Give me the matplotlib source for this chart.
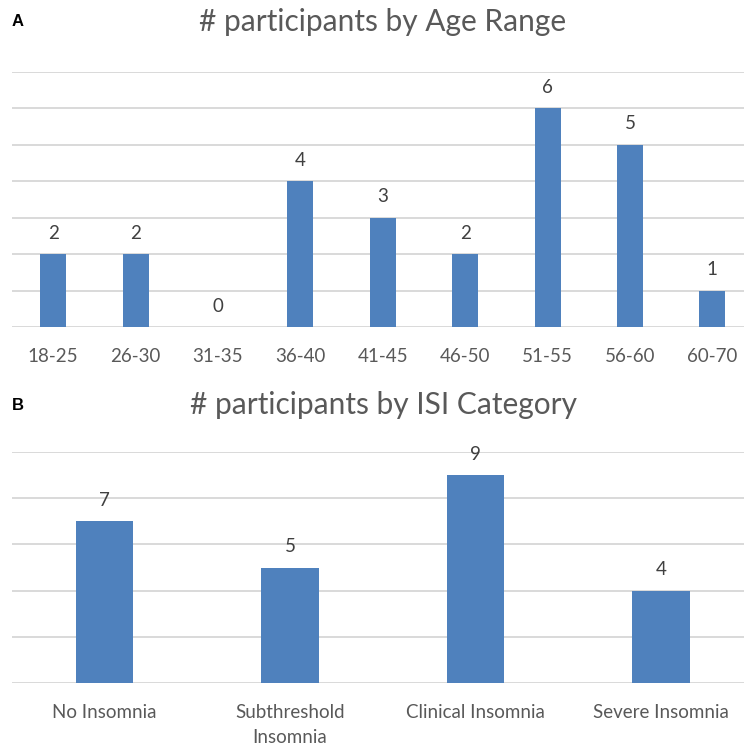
import matplotlib
matplotlib.use("Agg")
import matplotlib.pyplot as plt

age_ranges = ["18-25", "26-30", "31-35", "36-40", "41-45", "46-50", "51-55", "56-60", "60-70"]
age_counts = [2, 2, 0, 4, 3, 2, 6, 5, 1]
isi_categories = ["No Insomnia", "Subthreshold\nInsomnia", "Clinical Insomnia", "Severe Insomnia"]
isi_counts = [7, 5, 9, 4]

FONT = "Lato"
BAR = "#4F81BD"
GRID = "#D9D9D9"
TXT = "#595959"
LBL = "#404040"

fig = plt.figure(figsize=(7.44, 7.47), dpi=100)
W, H = 744, 747

def setup(ax, cats, vals, ymax, step, width):
    x = list(range(len(cats)))
    ax.bar(x, vals, width=width, color=BAR, zorder=3)
    ax.set_xlim(-0.5, len(cats) - 0.5)
    ax.set_ylim(0, ymax)
    ax.set_yticks(list(range(0, ymax + 1, step)))
    ax.yaxis.grid(True, color=GRID, linewidth=1.4, zorder=0)
    ax.set_yticklabels([])
    ax.tick_params(axis="y", length=0)
    ax.tick_params(axis="x", length=0, pad=15, labelsize=13.5, labelcolor=TXT)
    ax.set_xticks(x)
    ax.set_xticklabels(cats, fontfamily=FONT, linespacing=1.6, va="top")
    for s in ax.spines.values():
        s.set_visible(False)
    for xi, v in zip(x, vals):
        ax.annotate(str(v), (xi, v), xytext=(0, 9), textcoords="offset points",
                    ha="center", va="bottom", fontsize=13.5, color=LBL, fontfamily=FONT)

ax1 = fig.add_axes([12 / W, 1 - 327 / H, 741.5 / W, (327 - 72) / H])
setup(ax1, age_ranges, age_counts, 7, 1, 0.315)
ax2 = fig.add_axes([12 / W, 1 - 683 / H, 741.5 / W, (683 - 452) / H])
setup(ax2, isi_categories, isi_counts, 10, 2, 0.31)

fig.text(383 / W, 1 - 22 / H, "# participants by Age Range", ha="center", va="center",
         fontsize=21.5, color=TXT, fontfamily=FONT)
fig.text(383 / W, 1 - 405 / H, "# participants by ISI Category", ha="center", va="center",
         fontsize=21.5, color=TXT, fontfamily=FONT)
fig.text(12 / W, 1 - 21 / H, "A", ha="left", va="center", fontsize=12, fontweight="bold",
         fontfamily="Liberation Sans")
fig.text(12 / W, 1 - 405 / H, "B", ha="left", va="center", fontsize=12, fontweight="bold",
         fontfamily="Liberation Sans")

fig.savefig("out.png", dpi=100)
